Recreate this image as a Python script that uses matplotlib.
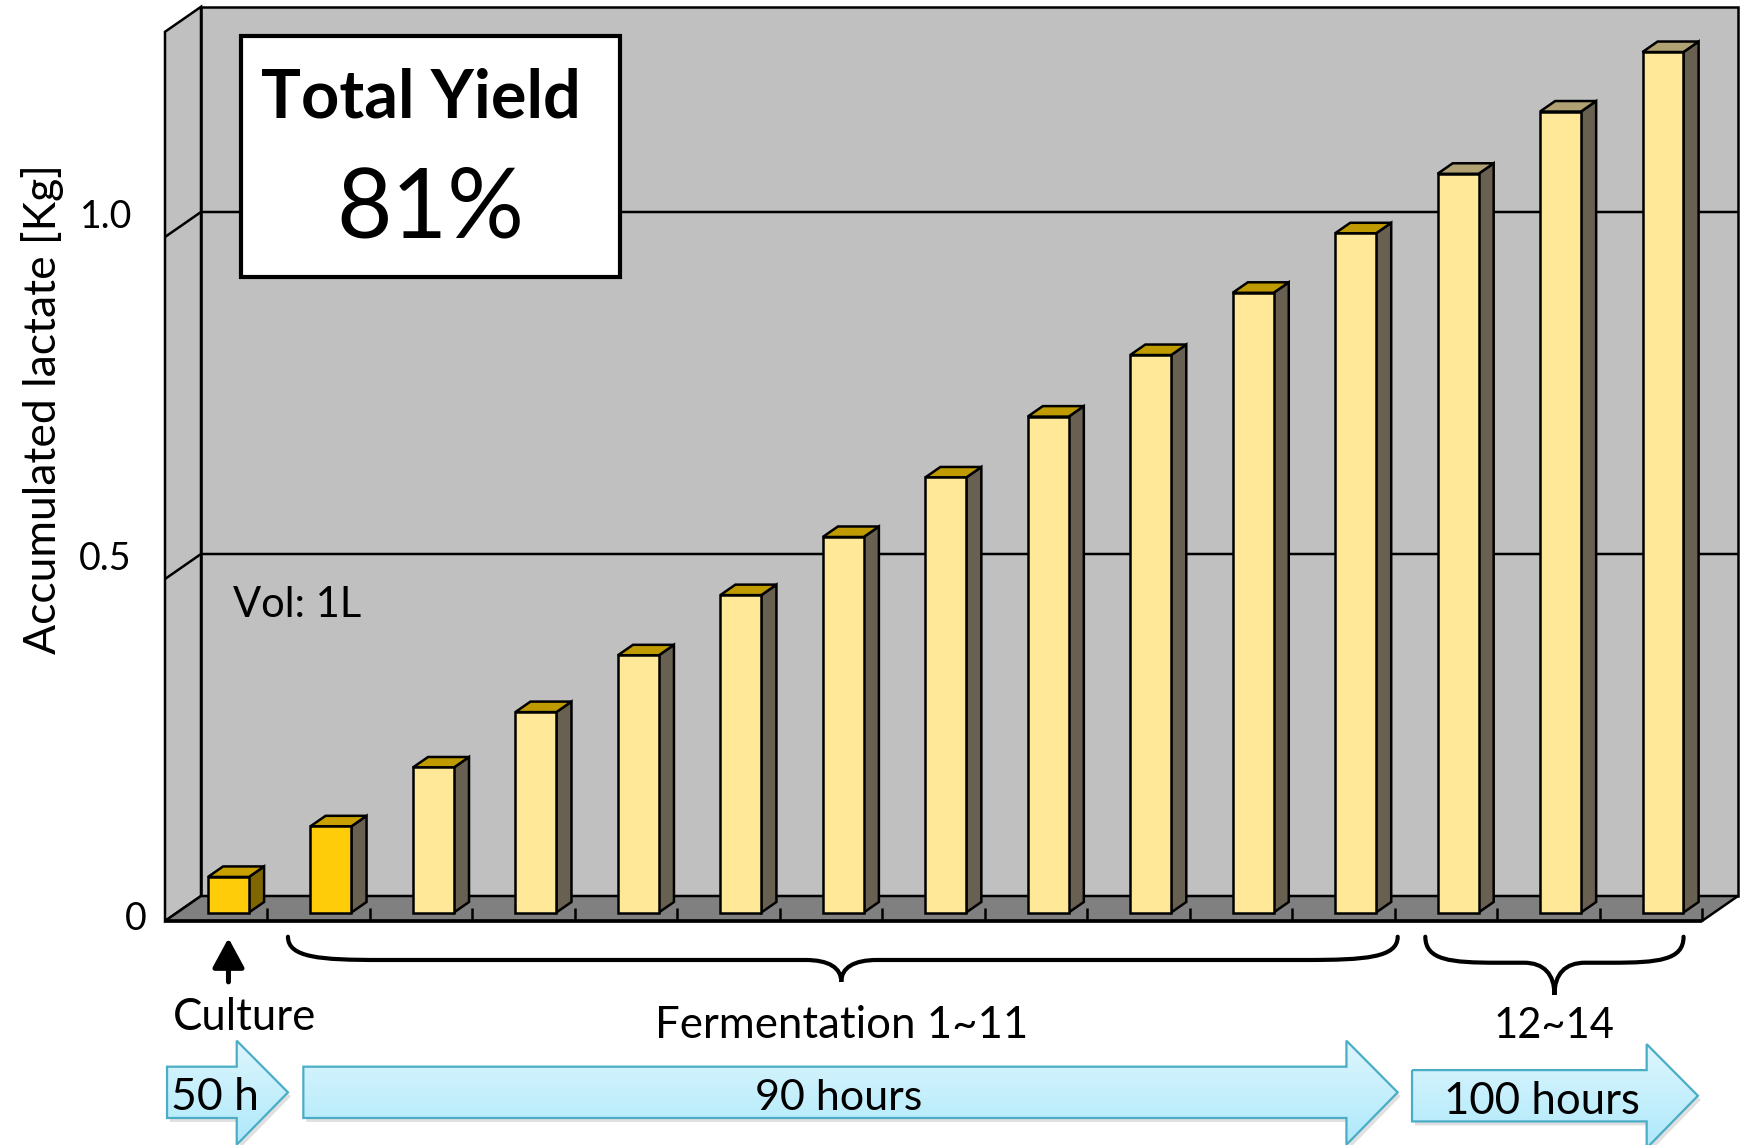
import numpy as np
import matplotlib.pyplot as plt
import matplotlib.transforms as mtransforms
from matplotlib.patches import Polygon, Rectangle, PathPatch
from matplotlib.path import Path
from matplotlib.colors import LinearSegmentedColormap

plt.rcParams['font.family'] = ['Lato', 'DejaVu Sans']

# accumulated lactate after each run (kg)
stages = ['Culture'] + ['F%d' % i for i in range(1, 15)]
lactate = [0.052, 0.126, 0.212, 0.293, 0.376, 0.464, 0.549, 0.636,
           0.725, 0.815, 0.906, 0.993, 1.080, 1.171, 1.258]
yticks = [0, 0.5, 1.0]
ytick_labels = ['0', '0.5', '1.0']

# groups of runs marked with braces: label, first, last, middle
groups = [('Fermentation 1~11', 0.70, 11.53, 6.10),
          ('12~14', 11.80, 14.32, 13.06)]
# time arrows: label, start, head start, tip, label centre
periods = [('50 h', -0.48, 0.20, 0.70, -0.01),
           ('90 hours', 0.85, 11.03, 11.53, 6.07),
           ('100 hours', 11.67, 13.96, 14.46, 12.94)]

front_col = ['#FFCC0A', '#FFCC0A'] + ['#FFE999'] * 13
side_col = ['#806600'] + ['#686050'] * 14
top_col = ['#C8A000', '#C8A000'] + ['#C09B00'] * 10 + ['#B1A273'] * 3

YMAX = 1.3
DEPTH = np.array([36.0, 25.0])   # back wall offset, pixels
F0, F1 = 0.34, 0.76              # bar front/back depth
HALF = 0.2
LW = 1.8

fig = plt.figure(figsize=(17.49, 11.45), dpi=100)
ax = fig.add_axes([165 / 1749, 224 / 1145, 1537 / 1749, YMAX * 684 / 1145])
ax.set_xlim(-0.5, len(lactate) - 0.5)
ax.set_ylim(0, YMAX)
ax.axis('off')
ident = mtransforms.IdentityTransform()
x0, x1 = -0.5, len(lactate) - 0.5


def proj(x, y, f=0.0):
    return ax.transData.transform((x, y)) + f * DEPTH


def face(pts, fc, lw=LW, z=1):
    ax.add_patch(Polygon(np.array(pts), closed=True, transform=ident, facecolor=fc,
                         edgecolor='black', lw=lw, joinstyle='miter', clip_on=False, zorder=z))


def seg(pts, lw=LW, z=2):
    pts = np.array(pts)
    ax.plot(pts[:, 0], pts[:, 1], color='black', lw=lw, transform=ident,
            clip_on=False, zorder=z, solid_capstyle='butt')


# walls and floor
face([proj(x0, 0, 1), proj(x1, 0, 1), proj(x1, YMAX, 1), proj(x0, YMAX, 1)], '#C0C0C0', z=1)
face([proj(x0, 0, 0), proj(x0, 0, 1), proj(x0, YMAX, 1), proj(x0, YMAX, 0)], '#C0C0C0', z=1)
for g in yticks[1:]:
    seg([proj(x0, g, 0), proj(x0, g, 1), proj(x1, g, 1)], z=1.5)
face([proj(x0, 0, 0), proj(x1, 0, 0), proj(x1, 0, 1), proj(x0, 0, 1)], '#808080', z=2)
seg([proj(x0, 0, 0), proj(x1, 0, 0)], lw=2.6, z=2.5)
for k in range(1, len(lactate) + 1):
    seg([proj(k - 0.5, 0, 0), proj(k - 0.5, 0.019, 0)], z=2.5)

# tick labels
for v, lab in zip(yticks, ytick_labels):
    if v == 0:
        p = proj(x0, v, 0) + (-18, -9)
    else:
        p = proj(x0, v, 1) + (-69, -16)
    ax.text(p[0], p[1], lab, transform=ident, ha='right', va='baseline', fontsize=27)

# bars
for i, v in enumerate(lactate):
    xl, xr = i - HALF, i + HALF
    face([proj(xr, 0, F0), proj(xr, 0, F1), proj(xr, v, F1), proj(xr, v, F0)], side_col[i], z=3)
    face([proj(xl, v, F0), proj(xr, v, F0), proj(xr, v, F1), proj(xl, v, F1)], top_col[i], z=3)
    face([proj(xl, 0, F0), proj(xr, 0, F0), proj(xr, v, F0), proj(xl, v, F0)], front_col[i], z=3)

# yield box
ax.add_patch(Rectangle((0.24, 0.9415), 3.70, 0.3525, facecolor='white', edgecolor='black',
                       lw=3, clip_on=False, zorder=4))
ax.text(2.0, 1.1754, 'Total Yield', ha='center', va='baseline', fontsize=48,
        fontweight='bold', zorder=5)
ax.text(2.09, 1.0, '81%', ha='center', va='baseline', fontsize=69, zorder=5)
ax.text(0.163, 0.444, 'Vol: 1L', ha='left', va='baseline', fontsize=30, zorder=5)

ax.text(-1.70, 0.749, 'Accumulated lactate [Kg]', rotation=90, ha='center',
        va='center', fontsize=32)

# culture marker
shift = ax.transData + mtransforms.Affine2D().translate(F0 * DEPTH[0], 0)
ax.annotate('', xy=(0, -0.025), xycoords=shift, xytext=(0, -0.089), textcoords=shift,
            arrowprops=dict(arrowstyle='-|>,head_length=0.72,head_width=0.39',
                            mutation_scale=25, lw=3.6, color='black', shrinkA=0, shrinkB=0))
ax.text(0.28, -0.159, 'Culture', ha='center', va='baseline', fontsize=31.5)


def brace(xa, xb, xm, yt, yh, ytip, r1, r2):
    verts = [(xa, yt), (xa, yh + (yt - yh) * 0.1), (xa + r1 * 0.35, yh), (xa + r1, yh),
             (xm - r2, yh),
             (xm - r2 * 0.35, yh), (xm, yh + (ytip - yh) * 0.35), (xm, ytip),
             (xm, yh + (ytip - yh) * 0.35), (xm + r2 * 0.35, yh), (xm + r2, yh),
             (xb - r1, yh),
             (xb - r1 * 0.35, yh), (xb, yh + (yt - yh) * 0.1), (xb, yt)]
    codes = [Path.MOVETO, Path.CURVE4, Path.CURVE4, Path.CURVE4, Path.LINETO,
             Path.CURVE4, Path.CURVE4, Path.CURVE4, Path.CURVE4, Path.CURVE4, Path.CURVE4,
             Path.LINETO, Path.CURVE4, Path.CURVE4, Path.CURVE4]
    ax.add_patch(PathPatch(Path(verts, codes), fill=False, lw=3, edgecolor='black',
                           clip_on=False, capstyle='round', zorder=4))


brace(*groups[0][1:], -0.023, -0.057, -0.089, 0.9, 0.35)
brace(*groups[1][1:], -0.023, -0.061, -0.108, 0.7, 0.3)
ax.text(groups[0][3], -0.171, groups[0][0], ha='center', va='baseline', fontsize=31.5)
ax.text(groups[1][3], -0.171, groups[1][0], ha='center', va='baseline', fontsize=30)

# time arrows with a soft gradient fill
blue = LinearSegmentedColormap.from_list('arrowblue', ['#DDF6FD', '#AEE9FB'])
grad = np.linspace(0, 1, 128).reshape(-1, 1)
shadow = ax.transData + mtransforms.Affine2D().translate(3, -4)
for j, (lab, xs, xh, xt, xc) in enumerate(periods):
    dy = -0.005 if j == 2 else 0.0
    bt, bb = -0.213 + dy, -0.288 + dy
    ht, hb = -0.175 + dy, -0.327 + dy
    pts = [(xs, bt), (xh, bt), (xh, ht), (xt, (bt + bb) / 2), (xh, hb), (xh, bb), (xs, bb)]
    ax.add_patch(Polygon(pts, closed=True, transform=shadow, facecolor='black',
                         alpha=0.12, lw=0, clip_on=False, zorder=5))
    outline = Polygon(pts, closed=True, transform=ax.transData, facecolor='none',
                      edgecolor='#4BACC6', lw=1.6, clip_on=False, zorder=7)
    ax.add_patch(outline)
    im = ax.imshow(grad, extent=(xs, xt, hb, ht), cmap=blue, aspect='auto',
                   origin='upper', zorder=6)
    im.set_clip_box(fig.bbox)
    im.set_clip_path(outline)
    ax.text(xc, -0.277 + dy, lab, ha='center', va='baseline',
            fontsize=[32, 31, 31.5][j], zorder=8)

ax.set_xlim(x0, x1)
ax.set_ylim(0, YMAX)
fig.savefig('out.png', dpi=100)
